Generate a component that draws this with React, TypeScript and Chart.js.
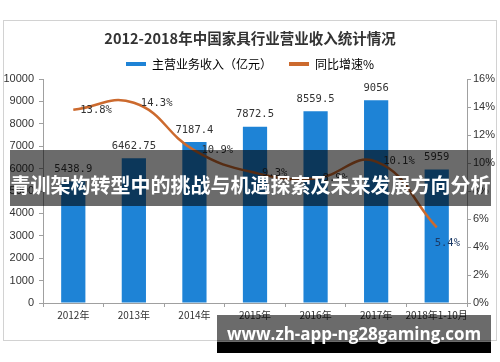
import React, { useEffect, useRef } from 'react';
import { Chart, registerables } from 'chart.js';

Chart.register(...registerables);

const titleText = '2012-2018年中国家具行业营业收入统计情况';
const categories = ['2012年', '2013年', '2014年', '2015年', '2016年', '2017年', '2018年1-10月'];
const revenue = [5438.9, 6462.75, 7187.4, 7872.5, 8559.5, 9056, 5959];
const revenueLabels = ['5438.9', '6462.75', '7187.4', '7872.5', '8559.5', '9056', '5959'];
const growth = [13.8, 14.3, 10.9, 9.3, 8.9, 10.1, 5.4];
const growthLabels = ['13.8%', '14.3%', '10.9%', '9.3%', '8.9%', '10.1%', '5.4%'];
const revenueName = '主营业务收入（亿元）';
const growthName = '同比增速%';
const bannerText = '青训架构转型中的挑战与机遇探索及未来发展方向分析';
const urlText = 'www.zh-app-ng28gaming.com';

const BAR_COLOR = '#1e83d6';
const LINE_COLOR = '#cc6a2e';
const AXIS_COLOR = '#a0a0a0';
const CJK = '"Noto Sans CJK SC", "Noto Sans", sans-serif';

export default function App() {
  const ref = useRef<HTMLCanvasElement>(null);

  useEffect(() => {
    const canvas = ref.current!;

    const framePlugin = {
      id: 'frame',
      beforeDraw(chart: any) {
        const ctx = chart.ctx;
        ctx.save();
        ctx.fillStyle = '#ffffff';
        ctx.fillRect(0, 0, chart.width, chart.height);
        ctx.strokeStyle = '#d2d2d2';
        ctx.lineWidth = 1;
        ctx.strokeRect(3.5, 20.5, 493, 320);
        ctx.restore();
      },
    };

    const labelPlugin = {
      id: 'valueLabels',
      afterDatasetsDraw(chart: any) {
        const ctx = chart.ctx;
        ctx.save();
        ctx.font = '10.5px "DejaVu Sans Mono", monospace';
        ctx.fillStyle = '#333333';
        const barMeta = chart.getDatasetMeta(1);
        ctx.textAlign = 'center';
        ctx.textBaseline = 'middle';
        barMeta.data.forEach((el: any, i: number) => {
          ctx.fillText(revenueLabels[i], el.x, el.y - 12);
        });
        const lineMeta = chart.getDatasetMeta(0);
        ctx.textAlign = 'left';
        lineMeta.data.forEach((el: any, i: number) => {
          if (i === lineMeta.data.length - 1) {
            ctx.fillStyle = '#1c3a66';
            ctx.fillText(growthLabels[i], el.x - 2, el.y + 16);
          } else {
            ctx.fillStyle = '#333333';
            ctx.fillText(growthLabels[i], el.x + 7, el.y);
          }
        });
        ctx.restore();
      },
    };

    const chart = new Chart(canvas, {
      type: 'bar',
      data: {
        labels: categories,
        datasets: [
          {
            type: 'line',
            label: growthName,
            data: growth,
            yAxisID: 'y1',
            borderColor: LINE_COLOR,
            backgroundColor: LINE_COLOR,
            borderWidth: 2.5,
            pointRadius: 0,
            tension: 0.45,
            order: 0,
          } as any,
          {
            type: 'bar',
            label: revenueName,
            data: revenue,
            yAxisID: 'y',
            backgroundColor: BAR_COLOR,
            borderWidth: 0,
            barPercentage: 0.4,
            categoryPercentage: 1,
            order: 1,
          },
        ],
      },
      options: {
        responsive: false,
        animation: false,
        maintainAspectRatio: false,
        layout: { padding: { left: 3, right: 3, top: 0, bottom: 29 } },
        plugins: {
          tooltip: { enabled: false },
          title: {
            display: true,
            text: titleText,
            color: '#333333',
            font: { size: 14.5, weight: 'bold', family: CJK },
            padding: { top: 29.3, bottom: -5.7 },
          },
          legend: {
            display: true,
            position: 'top',
            maxHeight: 38,
            labels: {
              boxWidth: 20,
              boxHeight: 4,
              padding: 17,
              color: '#333333',
              font: { size: 12, family: CJK },
              generateLabels: () => [
                { text: revenueName, fillStyle: BAR_COLOR, strokeStyle: BAR_COLOR, lineWidth: 0, datasetIndex: 1, hidden: false },
                { text: growthName, fillStyle: LINE_COLOR, strokeStyle: LINE_COLOR, lineWidth: 0, datasetIndex: 0, hidden: false },
              ] as any,
            },
          },
        },
        scales: {
          x: {
            grid: { offset: true, drawOnChartArea: false, drawTicks: true, tickLength: 4, color: AXIS_COLOR },
            border: { display: true, color: AXIS_COLOR },
            ticks: {
              color: '#333333',
              font: { size: 10, family: CJK },
              padding: 2,
              maxRotation: 0,
              autoSkip: false,
            },
            afterFit: (s: any) => { s.height = 30; },
          },
          y: {
            position: 'left',
            min: 0,
            max: 10000,
            grid: { drawOnChartArea: false, drawTicks: true, tickLength: 4, color: AXIS_COLOR },
            border: { display: true, color: AXIS_COLOR },
            ticks: {
              stepSize: 1000,
              color: '#333333',
              font: { size: 11, family: '"Liberation Sans", Arial, sans-serif' },
              padding: 5,
              callback: (v: any) => String(v),
            },
            afterFit: (s: any) => { s.width = 40; },
          },
          y1: {
            position: 'right',
            min: 0,
            max: 16,
            grid: { drawOnChartArea: false, drawTicks: true, tickLength: 4, color: AXIS_COLOR },
            border: { display: true, color: AXIS_COLOR },
            ticks: {
              stepSize: 2,
              color: '#333333',
              font: { size: 11, family: '"Liberation Sans", Arial, sans-serif' },
              padding: 2,
              callback: (v: any) => v + '%',
            },
            afterFit: (s: any) => { s.width = 30; },
          },
        },
      },
      plugins: [framePlugin, labelPlugin],
    });

    return () => chart.destroy();
  }, []);

  return (
    <div style={{ position: 'fixed', left: 0, top: 0, width: 500, height: 362, background: '#fff', overflow: 'hidden' }}>
      <canvas ref={ref} width={500} height={362} style={{ display: 'block', width: 500, height: 362 }} />
      <div
        style={{
          position: 'absolute', left: 10, top: 150, width: 481, height: 56,
          background: 'rgba(0,0,0,0.58)',
        }}
      />
      <div
        style={{
          position: 'absolute', left: 10, top: 174, width: 481, height: 22,
          lineHeight: '22px', color: '#fff', fontFamily: CJK, fontWeight: 'bold',
          fontSize: 20, textAlign: 'center', whiteSpace: 'nowrap',
        }}
      >
        {bannerText}
      </div>
      <div style={{ position: 'absolute', left: 217, top: 315, width: 274, height: 27, background: 'rgba(0,0,0,0.58)' }} />
      <div style={{ position: 'absolute', left: 217, top: 342, width: 274, height: 11, background: '#000' }} />
      <div
        style={{
          position: 'absolute', left: 217, top: 325, width: 274, height: 17,
          lineHeight: '17px', color: '#fff', fontFamily: '"Open Sans", "Noto Sans", sans-serif',
          fontWeight: 'bold', fontSize: 17, textAlign: 'center', whiteSpace: 'nowrap',
        }}
      >
        {urlText}
      </div>
    </div>
  );
}
